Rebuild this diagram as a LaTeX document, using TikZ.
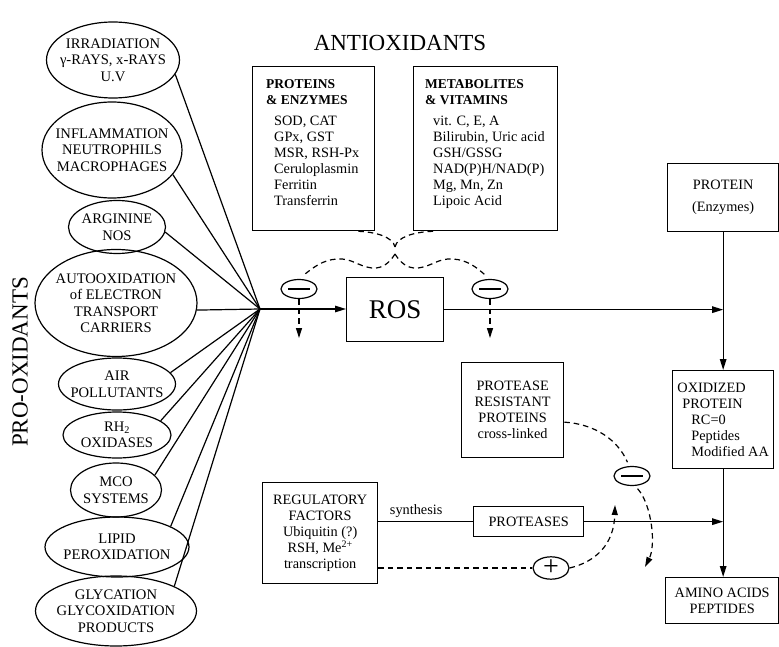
\documentclass[tikz,border=0pt]{standalone}
\usepackage{fontspec}
\setmainfont{Liberation Serif}
\usetikzlibrary{arrows.meta,shapes.geometric}
\tikzset{
  oval/.style={draw, ellipse, line width=1.2pt, inner sep=0pt},
  ovaltext/.style={align=center, inner sep=0pt, font=\fontsize{14.6}{16.5}\selectfont},
  box/.style={draw, line width=1.3pt, anchor=north west, inner sep=0pt, align=center, font=\fontsize{14.3}{16}\selectfont},
  listtext/.style={anchor=north west, align=left, inner sep=0pt, font=\fontsize{14.3}{16}\selectfont},
  sign/.style={draw, ellipse, line width=1.2pt, inner sep=0pt, minimum width=36pt, minimum height=19pt, font=\fontsize{28}{28}\selectfont},
  bigtitle/.style={inner sep=0pt, font=\fontsize{23}{23}\selectfont},
  link/.style={line width=1.2pt},
  arrow/.style={-{Triangle[length=11pt,width=6.5pt]}, line width=1.3pt},
  dashlink/.style={line width=1.2pt, dash pattern=on 5.5pt off 4pt},
  dasharrow/.style={-{Triangle[length=10pt,width=6pt]}, line width=1.2pt, dash pattern=on 5.5pt off 4pt}
}
\newcommand{\hd}[1]{\textbf{\fontsize{13.5}{16}\selectfont #1}}
\newcommand{\minusbar}{\rule[-0.7pt]{22pt}{1.4pt}}

\begin{document}
\begin{tikzpicture}[x=1pt, y=-1pt]
  \useasboundingbox (0,0) rectangle (779,647);

  % pro-oxidants
  \node[bigtitle, rotate=90] (prolabel) at (20,362) {PRO-OXIDANTS};
  \node[oval, minimum width=133, minimum height=76] (irr) at (113,60) {};
  \node[ovaltext] (irr-t) at (irr) {IRRADIATION\\γ-RAYS, x-RAYS\\U.V};
  \node[oval, minimum width=140, minimum height=96] (inf) at (112,150) {};
  \node[ovaltext] (inf-t) at (inf) {INFLAMMATION\\NEUTROPHILS\\MACROPHAGES};
  \node[oval, minimum width=97, minimum height=53] (arg) at (117,227) {};
  \node[ovaltext] (arg-t) at (arg) {ARGININE\\NOS};
  \node[oval, minimum width=162, minimum height=107] (auto) at (116,303) {};
  \node[ovaltext] (auto-t) at (auto) {AUTOOXIDATION\\of ELECTRON\\TRANSPORT\\CARRIERS};
  \node[oval, minimum width=117, minimum height=52] (air) at (117,384) {};
  \node[ovaltext] (air-t) at (air) {AIR\\POLLUTANTS};
  \node[oval, minimum width=108, minimum height=46] (rh) at (117,435) {};
  \node[ovaltext] (rh-t) at (rh) {RH\textsubscript{2}\\OXIDASES};
  \node[oval, minimum width=91, minimum height=54] (mco) at (116,490) {};
  \node[ovaltext] (mco-t) at (mco) {MCO\\SYSTEMS};
  \node[oval, minimum width=144, minimum height=60] (lip) at (117,547) {};
  \node[ovaltext] (lip-t) at (lip) {LIPID\\PEROXIDATION};
  \node[oval, minimum width=161, minimum height=70] (gly) at (116,611) {};
  \node[ovaltext] (gly-t) at (gly) {GLYCATION\\GLYCOXIDATION\\PRODUCTS};

  \coordinate (hub) at (260,309);
  \foreach \src/\ang in {irr/-13, inf/-22, arg/-6, auto/-5, air/12, rh/18, mco/21, lip/21, gly/23}
    \draw[link] (\src.\ang) -- (hub);

  % antioxidants
  \node[bigtitle] (antilabel) at (400,43) {ANTIOXIDANTS};
  \node[box, minimum width=122, minimum height=164] (enzymes) at (252,66) {};
  \node[listtext] (enzymes-t) at (266,79) {\hd{PROTEINS}\\\hd{\& ENZYMES}\\[5pt]\hspace*{8pt}SOD, CAT\\\hspace*{8pt}GPx, GST\\\hspace*{8pt}MSR, RSH-Px\\\hspace*{8pt}Ceruloplasmin\\\hspace*{8pt}Ferritin\\\hspace*{8pt}Transferrin};
  \node[box, minimum width=144, minimum height=164] (vitamins) at (413,66) {};
  \node[listtext] (vitamins-t) at (425,79) {\hd{METABOLITES}\\\hd{\& VITAMINS}\\[5pt]\hspace*{8pt}vit. C, E, A\\\hspace*{8pt}Bilirubin, Uric acid\\\hspace*{8pt}GSH/GSSG\\\hspace*{8pt}NAD(P)H/NAD(P)\\\hspace*{8pt}Mg, Mn, Zn\\\hspace*{8pt}Lipoic Acid};

  \node[box, minimum width=97, minimum height=64, font=\fontsize{27}{30}\selectfont] (ros) at (346,277) {ROS};
  \node[sign] (ml) at (299,289) {\minusbar};
  \node[sign] (mr) at (490,289) {\minusbar};
  \coordinate (mlend) at (299,338);
  \coordinate (mrend) at (490,338);
  \coordinate (cuspa) at (395,247);
  \coordinate (cuspb) at (395,254);

  \draw[arrow] (hub) -- (hub -| ros.west);
  \draw[dashlink] ([xshift=-17pt]enzymes.south east) .. controls (376,232) and (393,237) .. (cuspa);
  \draw[dashlink] ([xshift=20pt]vitamins.south west) .. controls (414,232) and (397,237) .. (cuspa);
  \draw[dashlink] (cuspb) .. controls (390,262) and (383,269) .. (372,268) .. controls (357,266) and (352,258) .. (337,259) .. controls (322,260) and (313,268) .. ([yshift=5pt]ml.60);
  \draw[dashlink] (cuspb) .. controls (400,262) and (407,269) .. (418,268) .. controls (433,266) and (438,258) .. (453,259) .. controls (468,260) and (477,268) .. ([yshift=5pt]mr.120);
  \draw[dasharrow] (ml.south) -- (mlend);
  \draw[dasharrow] (mr.south) -- (mrend);

  % protein fate
  \node[box, minimum width=111, minimum height=68] (protein) at (667,163) {PROTEIN\\[6pt](Enzymes)};
  \node[box, minimum width=101, minimum height=98, align=left] (oxid) at (672,370) {OXIDIZED\\\hspace*{5pt}PROTEIN\\\hspace*{14pt}RC=0\\\hspace*{14pt}Peptides\\\hspace*{14pt}Modified AA};
  \node[box, minimum width=113, minimum height=46] (amino) at (665,577) {AMINO ACIDS\\PEPTIDES};
  \draw[arrow] (ros.east) -- (ros.east -| protein.south);
  \draw[arrow] (protein.south) -- (protein.south |- oxid.north);
  \draw[arrow] (oxid.south) -- (oxid.south |- amino.north);

  % proteolysis
  \node[box, minimum width=102, minimum height=95] (prores) at (461,362) {PROTEASE\\RESISTANT\\PROTEINS\\cross-linked};
  \node[box, minimum width=115, minimum height=101] (reg) at (262,482) {REGULATORY\\FACTORS\\Ubiquitin (?)\\RSH, Me\textsuperscript{2+}\\transcription};
  \node[box, minimum width=110, minimum height=30] (proteases) at (473,506) {PROTEASES};
  \node[sign] (mp) at (632,476) {\minusbar};
  \node[sign] (pl) at (551,568) {+};
  \coordinate (mpend) at (645,567);
  \coordinate (plend) at (615,505);

  \draw[link] (reg.east |- proteases) -- node[above, pos=0.4, inner sep=3pt, font=\fontsize{14.3}{16}\selectfont] {synthesis} (proteases.west);
  \draw[arrow] (proteases.east) -- (proteases.east -| oxid.south);
  \draw[dashlink] (reg.east |- pl) -- (pl.west);
  \draw[dasharrow] (pl.east) .. controls (595,562) and (614,545) .. (plend);
  \draw[dashlink] ([yshift=-12pt]prores.east) .. controls (595,424) and (618,440) .. ([yshift=4pt]mp.115);
  \draw[dasharrow] ([yshift=-3pt]mp.-60) .. controls (652,505) and (656,545) .. (mpend);
\end{tikzpicture}
\end{document}
